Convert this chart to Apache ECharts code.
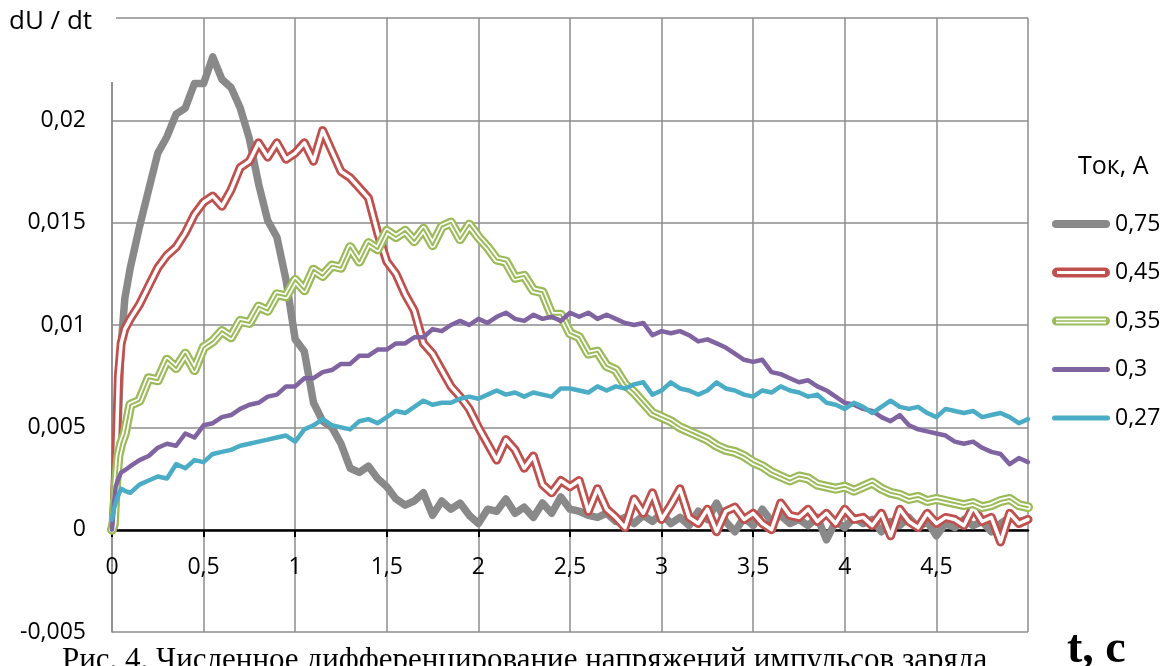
<!DOCTYPE html>
<html><head><meta charset="utf-8">
<script src="https://cdn.jsdelivr.net/npm/echarts@6/dist/echarts.min.js"></script>
<style>html,body{margin:0;padding:0;background:#fff;}#c{width:1162px;height:666px;}</style>
</head><body><div id="c"></div>
<script>
// time, s
const t = [0,0.01,0.02,0.035,0.05,0.07,0.1,0.15,0.2,0.25,
0.3,0.35,0.4,0.45,0.5,0.55,0.6,0.65,0.7,0.75,
0.8,0.85,0.9,0.95,1,1.05,1.1,1.15,1.2,1.25,
1.3,1.35,1.4,1.45,1.5,1.55,1.6,1.65,1.7,1.75,
1.8,1.85,1.9,1.95,2,2.05,2.1,2.15,2.2,2.25,
2.3,2.35,2.4,2.45,2.5,2.55,2.6,2.65,2.7,2.75,
2.8,2.85,2.9,2.95,3,3.05,3.1,3.15,3.2,3.25,
3.3,3.35,3.4,3.45,3.5,3.55,3.6,3.65,3.7,3.75,
3.8,3.85,3.9,3.95,4,4.05,4.1,4.15,4.2,4.25,
4.3,4.35,4.4,4.45,4.5,4.55,4.6,4.65,4.7,4.75,
4.8,4.85,4.9,4.95,5];

// dU/dt for current 0,75 A
const i075 = [0,0.0015,0.0035,0.0055,0.009,0.0113,0.0128,0.0148,0.0166,0.0184,
0.0192,0.0203,0.0206,0.0218,0.0218,0.0231,0.0220,0.0216,0.0206,0.0191,
0.0169,0.0151,0.0143,0.0122,0.0093,0.0087,0.0062,0.0053,0.0050,0.0042,
0.0030,0.0028,0.0031,0.0025,0.0021,0.0015,0.0012,0.0014,0.0018,0.0007,
0.0014,0.0010,0.0013,0.0007,0.0003,0.0010,0.0009,0.0015,0.0008,0.0011,
0.0006,0.0013,0.0008,0.0016,0.0010,0.0009,0.0007,0.0006,0.0008,0.0004,
0.0006,0.0003,0.0007,0.0004,0.0008,0.0003,0.0006,0.0002,0.0009,0.0005,
0.0013,0.0004,-0.0001,0.0006,0.0002,0.0010,0.0004,0.0007,0.0003,0.0005,
0.0002,0.0006,-0.0005,0.0004,0.0001,0.0006,0.0003,0.0005,-0.0001,0.0004,
0.0002,0.0006,0.0001,0.0004,-0.0003,0.0003,0.0001,0.0005,0.0002,0.0004,
-0.0001,0.0003,0.0006,0.0004,0.0005];

// 0,45 A
const i045 = [0,0.0002,0.0030,0.0075,0.0091,0.0098,0.0103,0.0110,0.0119,0.0128,
0.0134,0.0138,0.0145,0.0154,0.0160,0.0163,0.0158,0.0166,0.0177,0.0180,
0.0189,0.0182,0.0189,0.0181,0.0184,0.0189,0.0180,0.0195,0.0185,0.0175,
0.0172,0.0167,0.0162,0.0145,0.0131,0.0125,0.0115,0.0107,0.0091,0.0086,
0.0078,0.0070,0.0065,0.0059,0.0050,0.0042,0.0034,0.0044,0.0039,0.0030,
0.0036,0.0022,0.0018,0.0024,0.0021,0.0024,0.0009,0.0020,0.0010,0.0006,
0.0001,0.0015,0.0008,0.0018,0.0005,0.0012,0.0020,0.0006,0.0003,0.0010,
-0.0001,0.0009,0.0011,0.0005,0.0008,0.0003,0.0000,0.0013,0.0007,0.0006,
0.0010,0.0004,0.0008,0.0003,0.0010,0.0005,0.0006,0.0002,0.0008,-0.0003,
0.0010,0.0004,0.0001,0.0008,0.0003,0.0006,0.0005,0.0002,0.0011,0.0004,
0.0006,-0.0006,0.0008,0.0003,0.0005];

// 0,35 A
const i035 = [0,0.0003,0.0020,0.0036,0.0042,0.0047,0.0061,0.0063,0.0074,0.0073,
0.0083,0.0079,0.0086,0.0078,0.0089,0.0092,0.0097,0.0094,0.0102,0.0101,
0.0109,0.0107,0.0115,0.0114,0.0122,0.0117,0.0127,0.0124,0.0129,0.0128,
0.0138,0.0131,0.0140,0.0137,0.0146,0.0143,0.0146,0.0141,0.0147,0.0139,
0.0148,0.0150,0.0142,0.0149,0.0143,0.0138,0.0132,0.0131,0.0123,0.0124,
0.0117,0.0116,0.0105,0.0105,0.0096,0.0094,0.0086,0.0087,0.0080,0.0078,
0.0071,0.0067,0.0062,0.0057,0.0055,0.0053,0.0050,0.0048,0.0046,0.0044,
0.0041,0.0039,0.0038,0.0036,0.0033,0.0031,0.0028,0.0026,0.0024,0.0026,
0.0025,0.0022,0.0021,0.0020,0.0021,0.0019,0.0021,0.0023,0.0020,0.0018,
0.0017,0.0015,0.0016,0.0014,0.0015,0.0014,0.0013,0.0012,0.0013,0.0011,
0.0012,0.0014,0.0015,0.0012,0.0011];

// 0,3 A
const i030 = [0,0.0012,0.0021,0.0025,0.0028,0.0029,0.0031,0.0034,0.0036,0.0040,
0.0042,0.0041,0.0047,0.0045,0.0051,0.0052,0.0055,0.0056,0.0059,0.0061,
0.0062,0.0065,0.0066,0.0070,0.0070,0.0074,0.0074,0.0077,0.0078,0.0081,
0.0081,0.0085,0.0085,0.0088,0.0088,0.0091,0.0091,0.0094,0.0094,0.0098,
0.0097,0.0100,0.0102,0.0100,0.0103,0.0101,0.0104,0.0106,0.0103,0.0102,
0.0105,0.0103,0.0104,0.0102,0.0106,0.0104,0.0106,0.0103,0.0105,0.0103,
0.0101,0.0100,0.0101,0.0095,0.0097,0.0096,0.0097,0.0095,0.0092,0.0093,
0.0091,0.0089,0.0086,0.0083,0.0082,0.0083,0.0077,0.0076,0.0074,0.0072,
0.0073,0.0070,0.0068,0.0065,0.0062,0.0061,0.0059,0.0058,0.0055,0.0053,
0.0056,0.0051,0.0049,0.0048,0.0047,0.0046,0.0043,0.0042,0.0043,0.0040,
0.0038,0.0037,0.0032,0.0035,0.0033];

// 0,27 A
const i027 = [0.0005,0.0010,0.0013,0.0017,0.0020,0.0019,0.0018,0.0022,0.0024,0.0026,
0.0025,0.0032,0.0030,0.0034,0.0033,0.0037,0.0038,0.0039,0.0041,0.0042,
0.0043,0.0044,0.0045,0.0046,0.0043,0.0049,0.0051,0.0054,0.0051,0.0050,
0.0049,0.0053,0.0054,0.0052,0.0055,0.0058,0.0057,0.0060,0.0063,0.0061,
0.0062,0.0062,0.0064,0.0065,0.0064,0.0066,0.0068,0.0066,0.0067,0.0065,
0.0067,0.0066,0.0065,0.0069,0.0069,0.0068,0.0067,0.0070,0.0068,0.0070,
0.0069,0.0071,0.0072,0.0066,0.0068,0.0072,0.0069,0.0068,0.0066,0.0068,
0.0072,0.0069,0.0068,0.0066,0.0065,0.0068,0.0067,0.0070,0.0068,0.0067,
0.0065,0.0066,0.0062,0.0061,0.0059,0.0062,0.0060,0.0057,0.0060,0.0063,
0.0060,0.0059,0.0060,0.0057,0.0055,0.0059,0.0058,0.0057,0.0058,0.0055,
0.0056,0.0057,0.0055,0.0052,0.0054];

const seriesNames = ['0,75','0,45','0,35','0,3','0,27'];
const xTickLabels = ['0','0,5','1','1,5','2','2,5','3','3,5','4','4,5'];
const yTickLabels = ['-0,005','0','0,005','0,01','0,015','0,02'];

const pts = ys => t.map((x, i) => [x, ys[i]]);
const FONT = 'Open Sans';

function ln(name, ys, color, width, z) {
  return {
    name: name, type: 'line', data: pts(ys), symbol: 'none', showSymbol: false,
    silent: true, z: z,
    lineStyle: {color: color, width: width, cap: 'round', join: 'round'},
    itemStyle: {color: color}
  };
}

const BOX = 'M0,0L0,0M58,10L58,10';
const icons = {
  '0,75': 'path://' + BOX + 'M4,1H54A4,4 0 0 1 54,9H4A4,4 0 0 1 4,1Z',
  '0,45': 'path://' + BOX + 'M5,0H53A5,5 0 0 1 53,10H5A5,5 0 0 1 5,0ZM5,3.5V6.5H53V3.5Z',
  '0,35': 'path://' + BOX + 'M4.5,0.5H53.5A4.5,4.5 0 0 1 53.5,9.5H4.5A4.5,4.5 0 0 1 4.5,0.5ZM4,2.5V7.5H54V2.5ZM4,4.3H54V5.7H4Z',
  '0,3': 'path://' + BOX + 'M2.5,2.5H55.5A2.5,2.5 0 0 1 55.5,7.5H2.5A2.5,2.5 0 0 1 2.5,2.5Z',
  '0,27': 'path://' + BOX + 'M2.5,2.5H55.5A2.5,2.5 0 0 1 55.5,7.5H2.5A2.5,2.5 0 0 1 2.5,2.5Z'
};

// distance (px) from the plot bottom (-0,005) up to the zero line
const ZERO_OFFSET = -102;

const chart = echarts.init(document.getElementById('c'), null, {renderer: 'canvas'});
chart.setOption({
  animation: false,
  backgroundColor: '#fff',
  grid: {left: 112, top: 18, right: 134, bottom: 34, containLabel: false, outerBoundsMode: 'none'},
  xAxis: {
    type: 'value', min: 0, max: 5, interval: 0.5, position: 'bottom', offset: ZERO_OFFSET,
    axisLine: {onZero: false, lineStyle: {color: '#000', width: 2.5}},
    axisTick: {show: true, length: 7, lineStyle: {color: '#000', width: 2}},
    splitLine: {show: true, lineStyle: {color: '#8c8c8c', width: 1.5}},
    axisLabel: {
      color: '#000', fontSize: 23, fontFamily: FONT, margin: 26, showMaxLabel: false,
      formatter: v => xTickLabels[Math.round(v / 0.5)] || ''
    }
  },
  yAxis: {
    type: 'value', min: -0.005, max: 0.025, interval: 0.005,
    axisLine: {show: true, onZero: false, lineStyle: {color: '#8c8c8c', width: 1.5}},
    axisTick: {show: false},
    splitLine: {show: true, lineStyle: {color: '#8c8c8c', width: 1.5}},
    axisLabel: {
      color: '#000', fontSize: 23, fontFamily: FONT, margin: 26, showMaxLabel: false,
      formatter: v => yTickLabels[Math.round((v + 0.005) / 0.005)] || ''
    }
  },
  legend: {
    orient: 'vertical', left: 1047, top: 206, itemWidth: 58, itemHeight: 10, itemGap: 22.5,
    selectedMode: false,
    itemStyle: {borderWidth: 0},
    textStyle: {color: '#000', fontSize: 23, fontFamily: FONT, lineHeight: 26},
    data: seriesNames.map(n => ({name: n, icon: icons[n]}))
  },
  series: [
    ln(seriesNames[0], i075, '#898989', 7.5, 2),
    ln(seriesNames[1], i045, '#c0504d', 9, 3),
    ln('_w45', i045, '#ffffff', 3.5, 4),
    ln(seriesNames[2], i035, '#9bbb59', 10, 5),
    ln('_w35', i035, '#ffffff', 5.5, 6),
    ln('_g35', i035, '#9bbb59', 2, 7),
    ln(seriesNames[3], i030, '#8064a2', 4.5, 8),
    ln(seriesNames[4], i027, '#4bacc6', 4.5, 9)
  ],
  graphic: [
    {type: 'rect', z: 100, shape: {x: 0, y: 0, width: 116, height: 82}, style: {fill: '#fff'}},
    {type: 'text', z: 101, left: 9, top: 9, style: {text: 'dU / dt', fill: '#000', font: '26px "Open Sans"'}},
    {type: 'text', z: 101, left: 1078, top: 154, style: {text: 'Ток, А', fill: '#000', font: '25px "Open Sans"'}},
    {type: 'text', z: 101, left: 1067, top: 627, style: {text: 't, c', fill: '#000', font: 'bold 46px "Liberation Serif"'}},
    {type: 'text', z: 101, left: 62, top: 645, style: {text: 'Рис. 4. Численное дифференцирование напряжений импульсов заряда', fill: '#000', font: '31px "Liberation Serif"'}}
  ]
});
</script>
</body></html>
